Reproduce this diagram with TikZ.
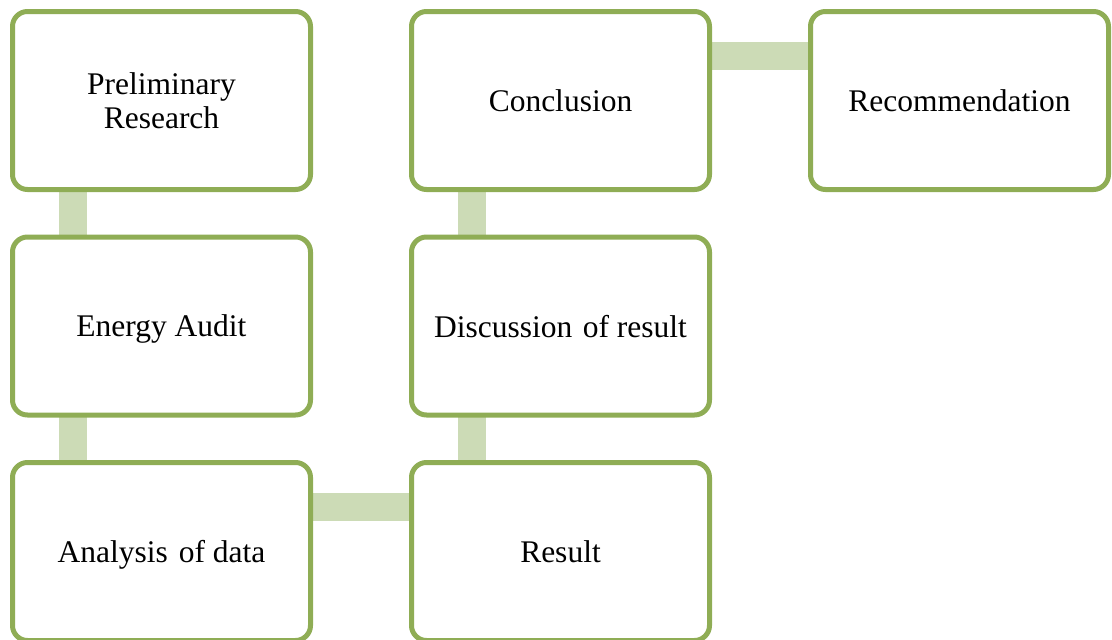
\documentclass[tikz,border=0pt]{standalone}
\usepackage{fontspec}
\setmainfont{Liberation Serif}
\usetikzlibrary{backgrounds}
\definecolor{boxgreen}{RGB}{143,173,85}
\definecolor{connlight}{RGB}{204,219,182}
\tikzset{
  stepbox/.style={draw=boxgreen, line width=5pt, fill=white, rounded corners=15pt,
    minimum width=298pt, minimum height=178pt, inner sep=0pt, outer sep=0pt,
    align=center, font=\fontsize{31.5}{34}\selectfont},
  oneline/.style={stepbox, text depth=0pt},
  conn/.style={draw=connlight, line width=28pt}
}
\begin{document}
\begin{tikzpicture}[x=1pt,y=-1pt]
\useasboundingbox (0,0) rectangle (1112,640);
\clip (0,0) rectangle (1112,640);
\node[stepbox] (pr) at (161.5,100.5) {Preliminary\\Research};
\node[oneline] (ea) at (161.5,326) {Energy Audit};
\node[oneline] (ad) at (161.5,551.5) {Analysis\hspace{0.1em} of data};
\node[oneline] (re) at (560.5,551.5) {Result};
\node[oneline] (dr) at (560.5,326) {Discussion\hspace{0.08em} of result};
\node[oneline] (co) at (560.5,100.5) {Conclusion};
\node[oneline] (rc) at (959.5,100.5) {Recommendation};
\begin{scope}[on background layer]
\draw[conn] ([xshift=-88.5pt]pr.south) -- ([xshift=-88.5pt]ea.north);
\draw[conn] ([xshift=-88.5pt]ea.south) -- ([xshift=-88.5pt]ad.north);
\draw[conn] ([yshift=45pt]ad.east) -- ([yshift=45pt]re.west);
\draw[conn] ([xshift=-88.5pt]re.north) -- ([xshift=-88.5pt]dr.south);
\draw[conn] ([xshift=-88.5pt]dr.north) -- ([xshift=-88.5pt]co.south);
\draw[conn] ([yshift=44.5pt]co.east) -- ([yshift=44.5pt]rc.west);
\end{scope}
\end{tikzpicture}
\end{document}
